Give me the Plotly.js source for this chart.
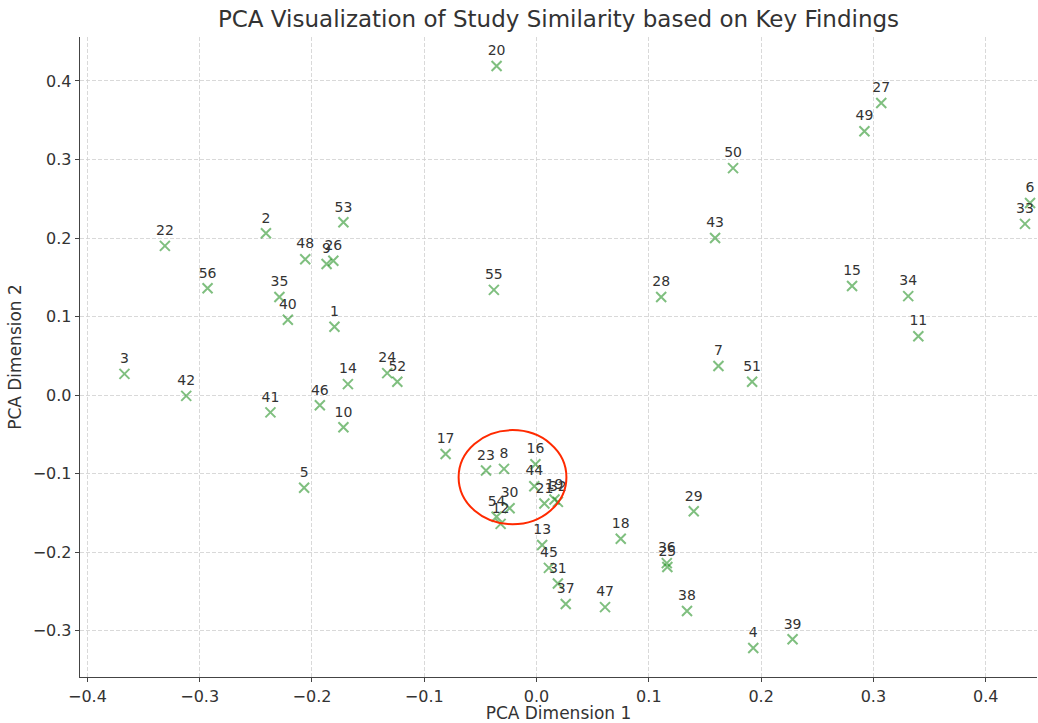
<!DOCTYPE html>
<html><head><meta charset="utf-8">
<script src="https://cdn.plot.ly/plotly-3.0.1.min.js"></script>
<style>html,body{margin:0;padding:0;background:#fff}#chart{width:1038px;height:723px}</style>
</head><body><div id="chart"></div>
<script>
const labels = ["1","2","3","4","5","6","7","8","9","10","11","12","13","14","15","16","17","18","19","20","21","22","23","24","25","26","27","28","29","30","31","32","33","34","35","36","37","38","39","40","41","42","43","44","45","46","47","48","49","50","51","52","53","54","55","56"];
const dim1 = [-0.180,-0.241,-0.367,0.193,-0.207,0.4395,0.162,-0.029,-0.187,-0.172,0.340,-0.032,0.005,-0.168,0.281,-0.001,-0.081,0.075,0.016,-0.0356,0.007,-0.331,-0.045,-0.133,0.1165,-0.181,0.307,0.111,0.140,-0.024,0.019,0.019,0.435,0.331,-0.229,0.116,0.026,0.134,0.228,-0.2215,-0.237,-0.312,0.159,-0.002,0.011,-0.193,0.061,-0.206,0.292,0.175,0.192,-0.124,-0.172,-0.0356,-0.038,-0.293];
const dim2 = [0.087,0.206,0.027,-0.322,-0.118,0.2446,0.037,-0.094,0.167,-0.041,0.075,-0.164,-0.191,0.014,0.139,-0.088,-0.075,-0.183,-0.133,0.419,-0.138,0.190,-0.096,0.028,-0.219,0.171,0.372,0.125,-0.148,-0.144,-0.240,-0.136,0.218,0.126,0.125,-0.214,-0.266,-0.275,-0.311,0.096,-0.022,-0.001,0.200,-0.116,-0.220,-0.013,-0.270,0.173,0.336,0.289,0.017,0.017,0.220,-0.155,0.134,0.136];

const trace = {
  x: dim1, y: dim2, text: labels,
  type: 'scatter', mode: 'markers+text',
  textposition: 'top center',
  textfont: {family: 'DejaVu Sans', size: 14, color: '#333333'},
  marker: {symbol: 'x-thin-open', size: 10, color: 'rgba(0,128,0,0.5)', line: {width: 2, color: 'rgba(0,128,0,0.5)'}},
  hoverinfo: 'text', showlegend: false, cliponaxis: false
};

const layout = {
  width: 1038, height: 723,
  margin: {l: 80, r: 1, t: 37, b: 46},
  paper_bgcolor: '#fff', plot_bgcolor: '#fff',
  font: {family: 'DejaVu Sans', color: '#333333'},
  title: {text: 'PCA Visualization of Study Similarity based on Key Findings', font: {size: 23, color: '#333333'}, xref: 'paper', x: 0.5, xanchor: 'center', yref: 'container', y: 0.985, yanchor: 'top'},
  xaxis: {
    range: [-0.4066, 0.4457], dtick: 0.1, tick0: 0, tickformat: '.1f',
    showgrid: true, gridcolor: '#cfcfcf', griddash: '4px,2px', gridwidth: 0.8,
    zeroline: false, showline: true, linecolor: '#444444', linewidth: 1.3,
    ticks: 'outside', ticklen: 4, tickcolor: '#444444',
    tickfont: {size: 16, color: '#333333'},
    title: {text: 'PCA Dimension 1', font: {size: 17, color: '#333333'}, standoff: 2}
  },
  yaxis: {
    range: [-0.359, 0.456], dtick: 0.1, tick0: 0, tickformat: '.1f',
    showgrid: true, gridcolor: '#cfcfcf', griddash: '4px,2px', gridwidth: 0.8,
    zeroline: false, showline: true, linecolor: '#444444', linewidth: 1.3,
    ticks: 'outside', ticklen: 4, tickcolor: '#444444',
    tickfont: {size: 16, color: '#333333'},
    title: {text: 'PCA Dimension 2', font: {size: 17, color: '#333333'}, standoff: 6}
  },
  shapes: [{
    type: 'circle', xref: 'x', yref: 'y',
    x0: -0.0694, x1: 0.0266, y0: -0.1644, y1: -0.0446,
    line: {color: '#ff2a00', width: 2}
  }]
};

Plotly.newPlot('chart', [trace], layout, {displayModeBar: false, staticPlot: true});
</script>
</body></html>
